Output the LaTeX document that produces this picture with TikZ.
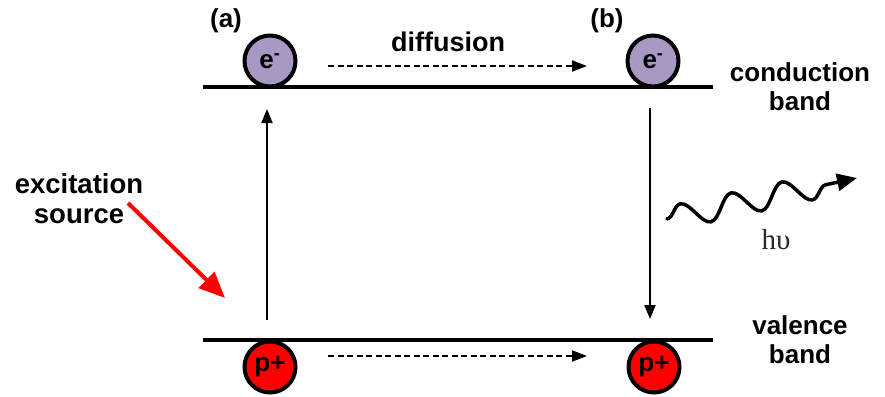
\documentclass[tikz,border=0pt]{standalone}
\usepackage{fontspec}
\setmainfont{Liberation Sans}
\newfontfamily\serifhv{Liberation Serif}
\usetikzlibrary{arrows.meta,decorations.pathmorphing}
\definecolor{elecfill}{HTML}{A899C4}
\definecolor{holefill}{HTML}{FF0000}
\definecolor{hvcol}{HTML}{2B2B2B}
\tikzset{
  lbl/.style={font=\fontsize{26}{29}\selectfont\bfseries, align=center, inner sep=0pt},
  biglbl/.style={lbl, font=\fontsize{27.5}{30}\selectfont\bfseries},
  particle/.style={circle, draw=black, line width=4pt, minimum size=51pt, inner sep=0pt,
                   font=\fontsize{26}{26}\selectfont\bfseries},
  band/.style={line width=4pt},
  transition/.style={line width=2pt, -{Triangle[length=14pt,width=11pt]}},
  diffarrow/.style={line width=2pt, dash pattern=on 6pt off 3.5pt, -{Triangle[length=15pt,width=11pt]}},
}
\begin{document}
\begin{tikzpicture}[x=1pt, y=-1pt]
\useasboundingbox (0,0) rectangle (885,396);

% energy bands
\coordinate (cbL) at (203,87);
\coordinate (cbR) at (713,87);
\coordinate (vbL) at (203,340);
\coordinate (vbR) at (713,340);
\draw[band] (cbL) -- (cbR);
\draw[band] (vbL) -- (vbR);

% carriers
\node[particle, fill=elecfill] (ea) at (270,61) {e\textsuperscript{-}};
\node[particle, fill=elecfill] (eb) at (653,61) {e\textsuperscript{-}};
\node[particle, fill=holefill] (ha) at (270,367) {p+};
\node[particle, fill=holefill] (hb) at (654,367) {p+};

% panel labels
\node[lbl] (la) at (226,21) {(a)};
\node[lbl] (lb) at (607,21) {(b)};

% diffusion arrows
\coordinate (d1s) at (328,66);
\coordinate (d1e) at (587,66);
\coordinate (d2s) at (328,356);
\coordinate (d2e) at (587,356);
\draw[diffarrow] (d1s) -- (d1e);
\draw[diffarrow] (d2s) -- (d2e);
\node[lbl, font=\fontsize{27}{29}\selectfont\bfseries] (diff) at (448,42) {diffusion};

% excitation and recombination
\coordinate (upS) at (267,320);
\coordinate (upE) at (267,109);
\coordinate (dnS) at (650,108);
\coordinate (dnE) at (650,319);
\draw[transition] (upS) -- (upE);
\draw[transition] (dnS) -- (dnE);

% excitation source
\node[biglbl] (exc) at (79,199) {excitation\\source};
\coordinate (rs) at (128,203);
\coordinate (re) at (225,298);
\draw[red, line width=4pt, -{Triangle[length=26pt,width=22pt]}] (rs) -- (re);

% emitted photon
\coordinate (ws) at (667,219);
\coordinate (we) at (857,178);
\draw[line width=3.5pt, line cap=round, -{Triangle[length=20pt,width=17pt]},
      decorate, decoration={snake, segment length=52pt, amplitude=12pt, post length=18pt}]
  (ws) -- (we);
\node[font=\serifhv\fontsize{29}{29}\selectfont, text=hvcol, inner sep=0pt] (hv) at (776,240) {hυ};

% band names
\node[lbl] (cb) at (800,87) {conduction\\band};
\node[lbl] (vb) at (800,340) {valence\\band};
\end{tikzpicture}
\end{document}
